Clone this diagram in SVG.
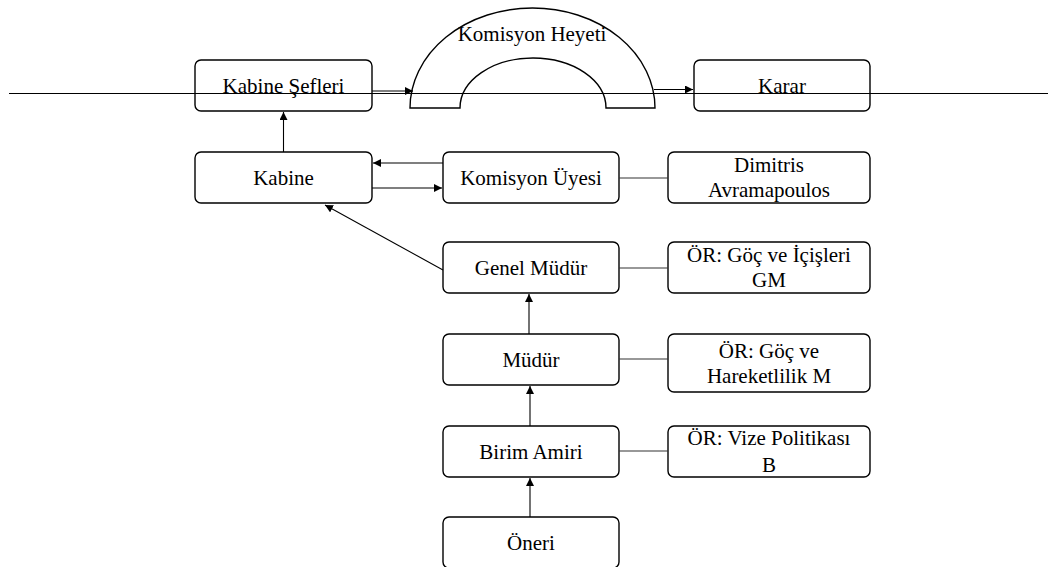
<svg xmlns="http://www.w3.org/2000/svg" width="1048" height="567" viewBox="0 0 1048 567">
<defs>
<marker id="ah" viewBox="0 0 10 10" refX="10" refY="5" markerWidth="8" markerHeight="8" markerUnits="userSpaceOnUse" orient="auto">
<path d="M0,0 L10,5 L0,10 Z" fill="#000"/>
</marker>
<style>
.box{fill:#fff;stroke:#000;stroke-width:1.4}
text{font-family:'Liberation Serif','Times New Roman',serif;font-size:21px;fill:#000;text-anchor:middle}
.c{fill:none;stroke:#333;stroke-width:1.1}
.ca{fill:none;stroke:#000;stroke-width:1.1;marker-end:url(#ah)}
</style>
</defs>
<rect width="1048" height="567" fill="#fff"/>
<g id="komisyon-heyeti">
<path class="box" d="M410,108 A122.5,100 0 0 1 655,108 L606,108 A73,50 0 0 0 460,108 Z"/>
<text x="532" y="41">Komisyon Heyeti</text>
</g>
<g id="kabine-sefleri">
<rect class="box" x="195" y="60" width="177" height="51" rx="6"/>
<text x="283.5" y="93">Kabine Şefleri</text>
</g>
<g id="karar">
<rect class="box" x="694" y="60" width="176" height="51" rx="6"/>
<text x="782" y="93">Karar</text>
</g>
<g id="kabine">
<rect class="box" x="195" y="152" width="177" height="51" rx="6"/>
<text x="283.5" y="185">Kabine</text>
</g>
<g id="komisyon-uyesi">
<rect class="box" x="443" y="152" width="176" height="51" rx="6"/>
<text x="531" y="185">Komisyon Üyesi</text>
</g>
<g id="dimitris">
<rect class="box" x="668" y="152" width="202" height="51" rx="6"/>
<text x="769" y="172">Dimitris</text>
<text x="769" y="197">Avramapoulos</text>
</g>
<g id="genel-mudur">
<rect class="box" x="443" y="242" width="176" height="51" rx="6"/>
<text x="531" y="275">Genel Müdür</text>
</g>
<g id="or-gm">
<rect class="box" x="668" y="242" width="202" height="51" rx="6"/>
<text x="769" y="262">ÖR: Göç ve İçişleri</text>
<text x="769" y="287">GM</text>
</g>
<g id="mudur">
<rect class="box" x="443" y="334" width="176" height="51" rx="6"/>
<text x="531" y="367">Müdür</text>
</g>
<g id="or-m">
<rect class="box" x="668" y="334" width="202" height="58" rx="6"/>
<text x="769" y="358">ÖR: Göç ve</text>
<text x="769" y="383">Hareketlilik M</text>
</g>
<g id="birim-amiri">
<rect class="box" x="443" y="426" width="176" height="51" rx="6"/>
<text x="531" y="459">Birim Amiri</text>
</g>
<g id="or-b">
<rect class="box" x="668" y="426" width="202" height="51" rx="6"/>
<text x="769" y="445">ÖR: Vize Politikası</text>
<text x="769" y="472">B</text>
</g>
<g id="oneri">
<rect class="box" x="443" y="517" width="176" height="51" rx="6"/>
<text x="531" y="550">Öneri</text>
</g>
<g id="connectors">
<line class="ca" x1="372" y1="91" x2="413" y2="91"/>
<line class="ca" x1="654" y1="89.5" x2="693" y2="89.5"/>
<line class="ca" x1="283.5" y1="152" x2="283.5" y2="112"/>
<line class="ca" x1="443" y1="163" x2="373" y2="163"/>
<line class="ca" x1="372" y1="188" x2="442" y2="188"/>
<line class="c" x1="619" y1="178" x2="668" y2="178"/>
<line class="ca" x1="443" y1="270" x2="325" y2="205"/>
<line class="c" x1="619" y1="268" x2="668" y2="268"/>
<line class="ca" x1="529" y1="334" x2="529" y2="294"/>
<line class="c" x1="619" y1="359" x2="668" y2="359"/>
<line class="ca" x1="530" y1="426" x2="530" y2="386"/>
<line class="c" x1="619" y1="451" x2="668" y2="451"/>
<line class="ca" x1="530" y1="517" x2="530" y2="478"/>
<line stroke="#000" stroke-width="1.1" x1="9" y1="93.5" x2="1048" y2="93.5"/>
</g>
</svg>
